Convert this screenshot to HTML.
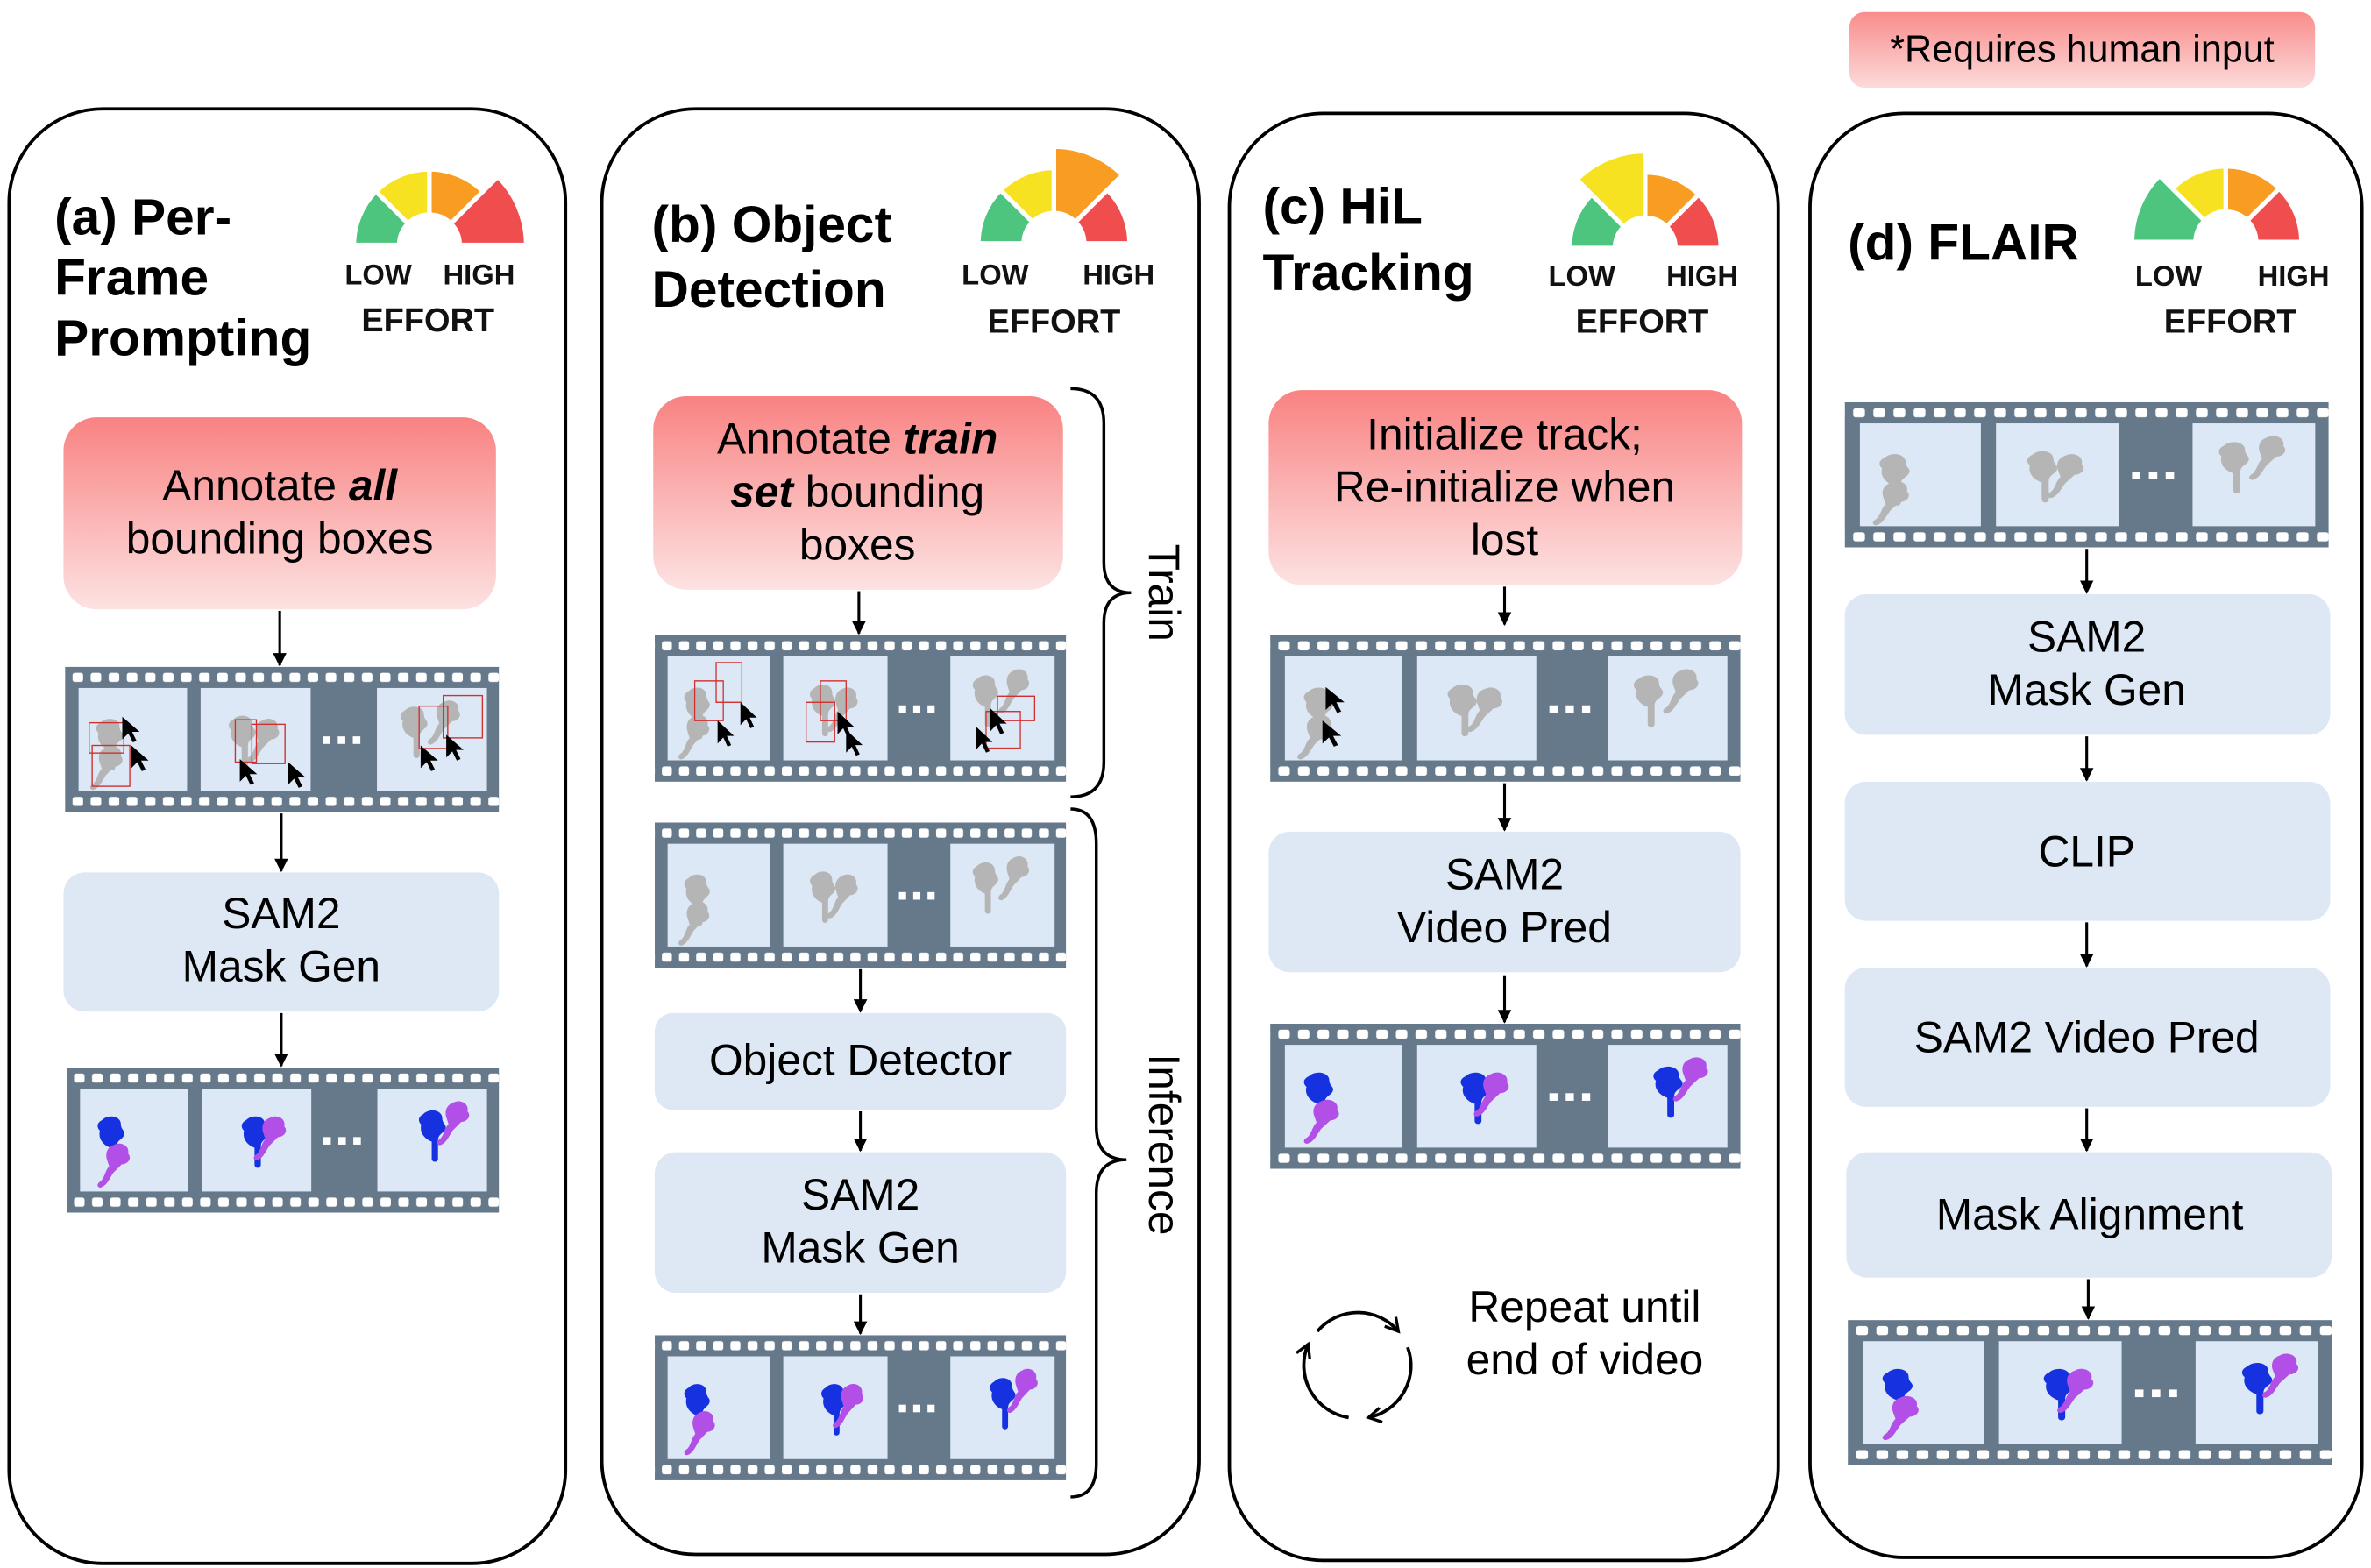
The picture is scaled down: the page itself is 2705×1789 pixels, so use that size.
<!DOCTYPE html>
<html><head><meta charset="utf-8"><style>
html,body{margin:0;padding:0;background:#fff}
svg{display:block}
text{font-family:"Liberation Sans",Arial,sans-serif}
.t{font-size:28.8px;fill:#000;text-anchor:middle}
.h{font-size:34px;font-weight:bold}
.g{font-size:19px;font-weight:bold;fill:#111}
.e{font-size:22px;font-weight:bold;text-anchor:middle}
</style></head><body>
<svg width="2705" height="1789" viewBox="0 0 1568 1037" preserveAspectRatio="none" xmlns="http://www.w3.org/2000/svg">
<defs>
<linearGradient id="pk" x1="0" y1="0" x2="0" y2="1"><stop offset="0" stop-color="#f98282"/><stop offset="1" stop-color="#fde2e2"/></linearGradient>
<linearGradient id="pk2" x1="0" y1="0" x2="0" y2="1"><stop offset="0" stop-color="#fa8c8c"/><stop offset="1" stop-color="#fcdada"/></linearGradient>
<marker id="ah" viewBox="0 0 10 10" refX="9" refY="5" markerWidth="9" markerHeight="9" markerUnits="userSpaceOnUse" orient="auto"><path d="M0,0L10,5L0,10z" fill="#000"/></marker>
<marker id="oh" viewBox="0 0 10 10" refX="8" refY="5" markerWidth="12" markerHeight="12" markerUnits="userSpaceOnUse" orient="auto"><path d="M1,1L8,5L1,9" fill="none" stroke="#000" stroke-width="1.6"/></marker>
<pattern id="sp" width="12" height="96" patternUnits="userSpaceOnUse" x="2"><rect x="3" y="4" width="7" height="6" rx="1.5" fill="#fff"/><rect x="3" y="86" width="7" height="6" rx="1.5" fill="#fff"/></pattern>
<g id="obj"><path transform="scale(1.4)" d="M4,2c3,-3 9,-2 9,2c0,3 3,3 1,6c-2,2 -3,2 -3,5l0,8c0,2 -3,2 -3,0l0,-8c-3,-1 -6,-4 -5,-8c-2,-2 -1,-4 1,-5z"/></g>
<g id="obj2"><path transform="scale(1.4)" d="M8,1c3,-2 8,0 7,4c2,2 0,5 -3,5l-4,4c-2,3 -3,6 -6,7c-2,0 -2,-2 0,-3c2,-2 2,-5 4,-7l-1,-3c-1,-3 0,-6 3,-7z"/></g>
<path id="cur" d="M0,0L0,15L4,11L7,17L9.5,16L6.5,10L11.5,10z" fill="#000"/>
<symbol id="base" viewBox="0 0 288 96">
<rect width="288" height="96" fill="#66798b"/>
<rect width="288" height="96" fill="url(#sp)"/>
<rect x="9" y="14" width="72" height="68" fill="#dce8f5"/>
<rect x="90" y="14" width="73" height="68" fill="#dce8f5"/>
<rect x="207" y="14" width="73" height="68" fill="#dce8f5"/>
<rect x="171" y="46" width="5" height="5" fill="#fff"/><rect x="181" y="46" width="5" height="5" fill="#fff"/><rect x="191" y="46" width="5" height="5" fill="#fff"/>
</symbol>
<symbol id="gray" viewBox="0 0 288 96" preserveAspectRatio="none">
<use href="#base" width="288" height="96"/>
<g fill="#b5b5b5">
<use href="#obj" x="18" y="34"/><use href="#obj2" x="16" y="52"/>
<use href="#obj" x="106" y="32"/><use href="#obj2" x="120" y="34"/>
<use href="#obj" x="220" y="26"/><use href="#obj2" x="240" y="22"/>
</g></symbol>
<symbol id="color" viewBox="0 0 288 96" preserveAspectRatio="none">
<use href="#base" width="288" height="96"/>
<g fill="#1632e0"><use href="#obj" x="18" y="32"/><use href="#obj" x="114" y="32"/><use href="#obj" x="232" y="28"/></g>
<g fill="#b24fe6"><use href="#obj2" x="20" y="50"/><use href="#obj2" x="124" y="32"/><use href="#obj2" x="246" y="22"/></g>
</symbol>
<symbol id="boxesA" viewBox="0 0 288 96" preserveAspectRatio="none">
<use href="#gray" width="288" height="96"/>
<g fill="none" stroke="#d03030" stroke-width="0.8">
<rect x="16" y="37" width="23" height="20"/><rect x="18" y="52" width="25" height="27"/>
<rect x="113" y="35" width="14" height="28"/><rect x="124" y="38" width="22" height="26"/>
<rect x="235" y="26" width="19" height="28"/><rect x="251" y="19" width="26" height="28"/>
</g>
<use href="#cur" x="38" y="33"/><use href="#cur" x="44" y="52"/>
<use href="#cur" x="116" y="61"/><use href="#cur" x="148" y="63"/>
<use href="#cur" x="236" y="52"/><use href="#cur" x="253" y="45"/>
</symbol>
<symbol id="boxesB" viewBox="0 0 288 96" preserveAspectRatio="none">
<use href="#gray" width="288" height="96"/>
<g fill="none" stroke="#d03030" stroke-width="0.8">
<rect x="28" y="30" width="20" height="26"/><rect x="43" y="18" width="18" height="26"/>
<rect x="106" y="44" width="20" height="26"/><rect x="116" y="30" width="18" height="26"/>
<rect x="232" y="50" width="24" height="24"/><rect x="240" y="40" width="26" height="16"/>
</g>
<use href="#cur" x="44" y="56"/><use href="#cur" x="60" y="44"/>
<use href="#cur" x="128" y="50"/><use href="#cur" x="134" y="62"/>
<use href="#cur" x="235" y="48"/><use href="#cur" x="225" y="60"/>
</symbol>
<symbol id="curC" viewBox="0 0 288 96" preserveAspectRatio="none">
<use href="#gray" width="288" height="96"/>
<use href="#cur" x="34" y="34"/><use href="#cur" x="32" y="56"/>
</symbol>
</defs>

<rect x="1223" y="8" width="308" height="50" rx="10" fill="url(#pk2)"/>
<text x="1377" y="41" class="t" style="font-size:25px">*Requires human input</text>

<g fill="none" stroke="#000" stroke-width="2.2">
<rect x="6" y="72" width="368" height="962" rx="62"/>
<rect x="398" y="72" width="395" height="956" rx="62"/>
<rect x="813" y="75" width="363" height="957" rx="62"/>
<rect x="1197" y="75" width="365" height="955" rx="62"/>
</g>

<g stroke="#fff" stroke-width="3" stroke-linejoin="round">
<g transform="translate(284,162)"><path d="M-50,0A50,50 0 0 1 -35.36,-35.36L-14.14,-14.14A20,20 0 0 0 -20,0Z" fill="#4ec57f"/><path d="M-35.36,-35.36A50,50 0 0 1 0,-50L0,-20A20,20 0 0 0 -14.14,-14.14Z" fill="#f7e221"/><path d="M0,-50A50,50 0 0 1 35.36,-35.36L14.14,-14.14A20,20 0 0 0 0,-20Z" fill="#f89c22"/><path d="M45.25,-45.25A64,64 0 0 1 64,0L20,0A20,20 0 0 0 14.14,-14.14Z" fill="#f04e4e"/></g>
<g transform="translate(697,161)"><path d="M-50,0A50,50 0 0 1 -35.36,-35.36L-14.14,-14.14A20,20 0 0 0 -20,0Z" fill="#4ec57f"/><path d="M-35.36,-35.36A50,50 0 0 1 0,-50L0,-20A20,20 0 0 0 -14.14,-14.14Z" fill="#f7e221"/><path d="M0,-64A64,64 0 0 1 45.25,-45.25L14.14,-14.14A20,20 0 0 0 0,-20Z" fill="#f89c22"/><path d="M35.36,-35.36A50,50 0 0 1 50,0L20,0A20,20 0 0 0 14.14,-14.14Z" fill="#f04e4e"/></g>
<g transform="translate(1088,164)"><path d="M-50,0A50,50 0 0 1 -35.36,-35.36L-14.14,-14.14A20,20 0 0 0 -20,0Z" fill="#4ec57f"/><path d="M-45.25,-45.25A64,64 0 0 1 0,-64L0,-20A20,20 0 0 0 -14.14,-14.14Z" fill="#f7e221"/><path d="M0,-50A50,50 0 0 1 35.36,-35.36L14.14,-14.14A20,20 0 0 0 0,-20Z" fill="#f89c22"/><path d="M35.36,-35.36A50,50 0 0 1 50,0L20,0A20,20 0 0 0 14.14,-14.14Z" fill="#f04e4e"/></g>
<g transform="translate(1472,160)"><path d="M-62,0A62,62 0 0 1 -43.84,-43.84L-14.14,-14.14A20,20 0 0 0 -20,0Z" fill="#4ec57f"/><path d="M-35.36,-35.36A50,50 0 0 1 0,-50L0,-20A20,20 0 0 0 -14.14,-14.14Z" fill="#f7e221"/><path d="M0,-50A50,50 0 0 1 35.36,-35.36L14.14,-14.14A20,20 0 0 0 0,-20Z" fill="#f89c22"/><path d="M35.36,-35.36A50,50 0 0 1 50,0L20,0A20,20 0 0 0 14.14,-14.14Z" fill="#f04e4e"/></g>
</g>
<g class="g">
<text x="228" y="188" class="g">LOW</text><text x="293" y="188" class="g">HIGH</text><text x="283" y="219" class="e">EFFORT</text>
<text x="636" y="188" class="g">LOW</text><text x="716" y="188" class="g">HIGH</text><text x="697" y="220" class="e">EFFORT</text>
<text x="1024" y="189" class="g">LOW</text><text x="1102" y="189" class="g">HIGH</text><text x="1086" y="220" class="e">EFFORT</text>
<text x="1412" y="189" class="g">LOW</text><text x="1493" y="189" class="g">HIGH</text><text x="1475" y="220" class="e">EFFORT</text>
</g>

<text x="36" y="155" class="h">(a) Per-</text>
<text x="36" y="195" class="h">Frame</text>
<text x="36" y="235" class="h">Prompting</text>
<text x="431" y="160" class="h">(b) Object</text>
<text x="431" y="203" class="h">Detection</text>
<text x="835" y="148" class="h">(c) HiL</text>
<text x="835" y="192" class="h">Tracking</text>
<text x="1222" y="172" class="h">(d) FLAIR</text>

<g stroke="#000" stroke-width="1.8" marker-end="url(#ah)">
<line x1="185" y1="404" x2="185" y2="440"/>
<line x1="186" y1="538" x2="186" y2="576"/>
<line x1="186" y1="670" x2="186" y2="705"/>
<line x1="568" y1="391" x2="568" y2="419"/>
<line x1="569" y1="641" x2="569" y2="669"/>
<line x1="569" y1="735" x2="569" y2="761"/>
<line x1="569" y1="856" x2="569" y2="882"/>
<line x1="995" y1="388" x2="995" y2="413"/>
<line x1="995" y1="518" x2="995" y2="549"/>
<line x1="995" y1="645" x2="995" y2="676"/>
<line x1="1380" y1="363" x2="1380" y2="392"/>
<line x1="1380" y1="487" x2="1380" y2="516"/>
<line x1="1380" y1="610" x2="1380" y2="639"/>
<line x1="1380" y1="733" x2="1380" y2="761"/>
<line x1="1381" y1="846" x2="1381" y2="872"/>
</g>

<rect x="42" y="276" width="286" height="127" rx="22" fill="url(#pk)"/>
<text x="185" y="331" class="t">Annotate <tspan font-weight="bold" font-style="italic">all</tspan></text>
<text x="185" y="366" class="t">bounding boxes</text>
<use href="#boxesA" x="43" y="441" width="287" height="96"/>
<rect x="42" y="577" width="288" height="92" rx="14" fill="#dde8f4"/>
<text x="186" y="614" class="t">SAM2</text><text x="186" y="649" class="t">Mask Gen</text>
<use href="#color" x="44" y="706" width="286" height="96"/>

<rect x="432" y="262" width="271" height="128" rx="22" fill="url(#pk)"/>
<text x="567" y="300" class="t">Annotate <tspan font-weight="bold" font-style="italic">train</tspan></text>
<text x="567" y="335" class="t"><tspan font-weight="bold" font-style="italic">set</tspan> bounding</text>
<text x="567" y="370" class="t">boxes</text>
<use href="#boxesB" x="433" y="420" width="272" height="97"/>
<use href="#gray" x="433" y="544" width="272" height="96"/>
<rect x="433" y="670" width="272" height="64" rx="12" fill="#dde8f4"/>
<text x="569" y="711" class="t">Object Detector</text>
<rect x="433" y="762" width="272" height="93" rx="14" fill="#dde8f4"/>
<text x="569" y="800" class="t">SAM2</text><text x="569" y="835" class="t">Mask Gen</text>
<use href="#color" x="433" y="883" width="272" height="96"/>
<g fill="none" stroke="#000" stroke-width="2">
<path d="M708,257Q730,257 730,280L730,372Q730,392 748,392Q730,392 730,412L730,504Q730,527 708,527"/>
<path d="M708,535Q725,535 725,558L725,745Q725,767 745,767Q725,767 725,789L725,968Q725,990 708,990"/>
</g>
<text transform="translate(760,392) rotate(90)" class="t">Train</text>
<text transform="translate(760,757) rotate(90)" class="t">Inference</text>

<rect x="839" y="258" width="313" height="129" rx="22" fill="url(#pk)"/>
<text x="995" y="297" class="t">Initialize track;</text>
<text x="995" y="332" class="t">Re-initialize when</text>
<text x="995" y="367" class="t">lost</text>
<use href="#curC" x="840" y="420" width="311" height="97"/>
<rect x="839" y="550" width="312" height="93" rx="14" fill="#dde8f4"/>
<text x="995" y="588" class="t">SAM2</text><text x="995" y="623" class="t">Video Pred</text>
<use href="#color" x="840" y="677" width="311" height="96"/>
<g fill="none" stroke="#000" stroke-width="2.2" marker-end="url(#oh)">
<path d="M871.2,880.5A35,35 0 0 1 924.8,880.5"/>
<path d="M930.9,891A35,35 0 0 1 905,937.5"/>
<path d="M891.9,937.5A35,35 0 0 1 865.1,889"/>
</g>
<text x="1048" y="874" class="t">Repeat until</text>
<text x="1048" y="909" class="t">end of video</text>

<use href="#gray" x="1220" y="266" width="320" height="96"/>
<rect x="1220" y="393" width="321" height="93" rx="14" fill="#dde8f4"/>
<text x="1380" y="431" class="t">SAM2</text><text x="1380" y="466" class="t">Mask Gen</text>
<rect x="1220" y="517" width="321" height="92" rx="14" fill="#dde8f4"/>
<text x="1380" y="573" class="t">CLIP</text>
<rect x="1220" y="640" width="321" height="92" rx="14" fill="#dde8f4"/>
<text x="1380" y="696" class="t">SAM2 Video Pred</text>
<rect x="1221" y="762" width="321" height="83" rx="14" fill="#dde8f4"/>
<text x="1382" y="813" class="t">Mask Alignment</text>
<use href="#color" x="1222" y="873" width="320" height="96"/>
</svg>
</body></html>
